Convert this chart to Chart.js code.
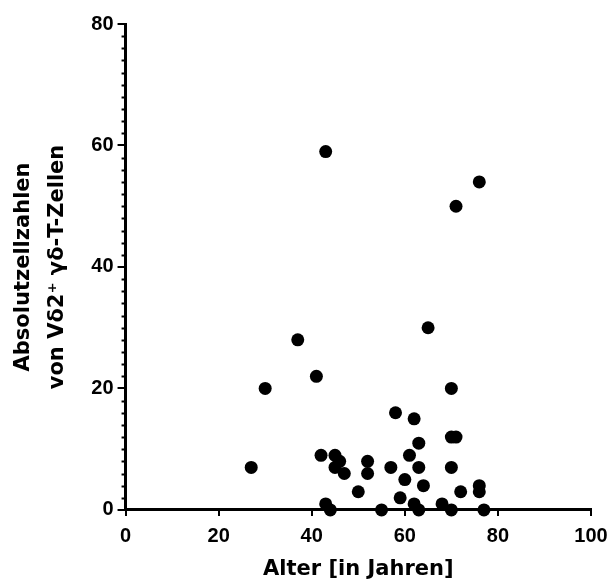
<!DOCTYPE html>
<html>
<head>
<meta charset="utf-8">
<script src="https://cdn.jsdelivr.net/npm/chart.js@4.4.1/dist/chart.umd.min.js"></script>
<style>
  body { margin: 0; background: #fff; }
  #wrap { width: 611px; height: 583px; }
</style>
</head>
<body>
<div id="wrap"><canvas id="chart"></canvas></div>
<script>
// age in years vs absolute cell counts
const ages = [27, 30, 37, 41, 42, 43, 44, 45, 45, 46, 47, 50, 52, 52, 55, 57, 58, 59, 60, 61,
              62, 62, 63, 63, 63, 64, 65, 68, 70, 70, 71, 70, 70, 72, 76, 76, 77, 43, 71, 76];
const counts = [7, 20, 28, 22, 9, 1, 0, 9, 7, 8, 6, 3, 8, 6, 0, 7, 16, 2, 5, 9,
                15, 1, 11, 7, 0, 4, 30, 1, 20, 12, 12, 7, 0, 3, 4, 3, 0, 59, 50, 54];
const xTicks = [0, 20, 40, 60, 80, 100];
const yTicks = [0, 20, 40, 60, 80];
const yMinorStep = 2;

const points = ages.map((a, i) => ({x: a, y: counts[i]}));

const tickFont = {family: '"Liberation Sans", Arial, sans-serif', size: 20, weight: 'bold'};
const titleFont = {family: '"DejaVu Sans", sans-serif', size: 21, weight: 'bold'};

// short minor ticks on the y axis
const minorTicks = {
  id: 'minorTicks',
  afterDraw(chart) {
    const y = chart.scales.y;
    const ctx = chart.ctx;
    ctx.save();
    ctx.strokeStyle = '#000';
    ctx.lineWidth = 2;
    for (let v = y.min; v <= y.max; v += yMinorStep) {
      if (yTicks.includes(v)) continue;
      const py = Math.round(y.getPixelForValue(v)) + 0.5;
      ctx.beginPath();
      ctx.moveTo(y.right - 4, py);
      ctx.lineTo(y.right, py);
      ctx.stroke();
    }
    ctx.restore();
  }
};

new Chart(document.getElementById('chart'), {
  type: 'scatter',
  data: {
    datasets: [{
      data: points,
      backgroundColor: '#000',
      borderWidth: 0,
      pointRadius: 6.5,
      pointHoverRadius: 6.5,
      clip: false
    }]
  },
  options: {
    responsive: true,
    maintainAspectRatio: false,
    animation: false,
    layout: {padding: {top: 24, right: 20, left: 6, bottom: 0}},
    plugins: {legend: {display: false}, tooltip: {enabled: false}},
    scales: {
      x: {
        min: 0, max: 100,
        afterBuildTicks: s => { s.ticks = xTicks.map(v => ({value: v})); },
        ticks: {color: '#000', font: Object.assign({}, tickFont, {lineHeight: 1.75}), padding: 3, maxRotation: 0},
        grid: {drawOnChartArea: false, drawTicks: true, tickLength: 6, color: '#000', lineWidth: 2},
        border: {color: '#000', width: 3},
        title: {display: true, text: 'Alter [in Jahren]', color: '#000',
                font: Object.assign({}, titleFont, {lineHeight: 1.24}), padding: {top: 0, bottom: 0}}
      },
      y: {
        min: 0, max: 80,
        afterBuildTicks: s => { s.ticks = yTicks.map(v => ({value: v})); },
        ticks: {color: '#000', font: tickFont, padding: 4},
        grid: {drawOnChartArea: false, drawTicks: true, tickLength: 8, color: '#000', lineWidth: 2},
        border: {color: '#000', width: 3},
        title: {display: true, text: ['Absolutzellzahlen', 'von V\u03b42\u207a \u03b3\u03b4-T-Zellen'], color: '#000',
                font: Object.assign({}, titleFont, {lineHeight: 1.65}), padding: {top: 0, bottom: 12}}
      }
    }
  },
  plugins: [minorTicks]
});
</script>
</body>
</html>
